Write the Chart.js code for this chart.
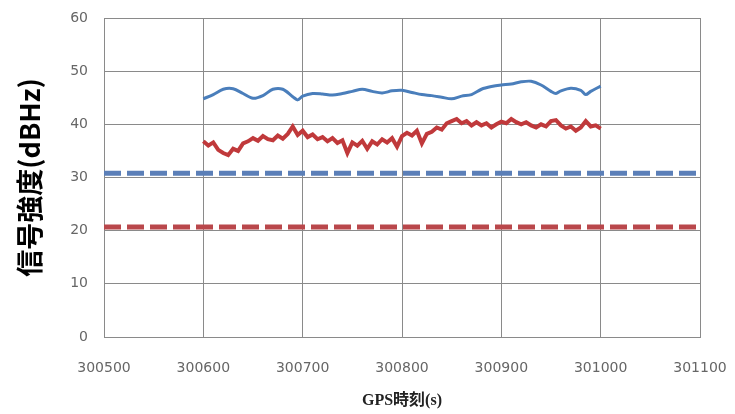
<!DOCTYPE html>
<html>
<head>
<meta charset="utf-8">
<script src="https://cdn.jsdelivr.net/npm/chart.js@4/dist/chart.umd.min.js"></script>
<style>
  html, body { margin: 0; padding: 0; background: #fff; }
  #wrap { width: 735px; height: 414px; }
</style>
</head>
<body>
<div id="wrap"><canvas id="snrChart" width="735" height="414"></canvas></div>
<script>
// GPS time (s) and received signal strength (dBHz)
const blueTimes = [300600, 300610, 300620, 300630, 300640, 300650, 300660, 300670, 300680, 300690,
  300695, 300700, 300710, 300720, 300730, 300740, 300750, 300760, 300770, 300780, 300790,
  300800, 300810, 300820, 300830, 300840, 300850, 300860, 300870, 300880, 300890, 300900,
  300910, 300920, 300930, 300940, 300950, 300955, 300960, 300970, 300980, 300985, 300990, 301000];
const blueValues = [44.8, 45.6, 46.6, 46.7, 45.8, 44.9, 45.4, 46.6, 46.6, 45.2,
  44.6, 45.3, 45.8, 45.7, 45.5, 45.8, 46.2, 46.6, 46.2, 45.9, 46.3,
  46.4, 46.0, 45.6, 45.4, 45.1, 44.8, 45.3, 45.6, 46.6, 47.1, 47.4,
  47.6, 48.0, 48.1, 47.4, 46.2, 45.8, 46.3, 46.8, 46.4, 45.6, 46.2, 47.2];

const redTimes = [300600, 300605, 300610, 300615, 300620, 300625, 300630, 300635, 300640, 300645,
  300650, 300655, 300660, 300665, 300670, 300675, 300680, 300685, 300690, 300695,
  300700, 300705, 300710, 300715, 300720, 300725, 300730, 300735, 300740, 300745,
  300750, 300755, 300760, 300765, 300770, 300775, 300780, 300785, 300790, 300795,
  300800, 300805, 300810, 300815, 300820, 300825, 300830, 300835, 300840, 300845,
  300850, 300855, 300860, 300865, 300870, 300875, 300880, 300885, 300890, 300895,
  300900, 300905, 300910, 300915, 300920, 300925, 300930, 300935, 300940, 300945,
  300950, 300955, 300960, 300965, 300970, 300975, 300980, 300985, 300990, 300995, 301000];
const redValues = [36.8, 36.0, 36.6, 35.2, 34.6, 34.2, 35.4, 35.0, 36.4, 36.8,
  37.4, 36.9, 37.8, 37.2, 37.0, 37.9, 37.3, 38.2, 39.6, 38.0,
  38.8, 37.6, 38.1, 37.2, 37.6, 36.8, 37.4, 36.5, 37.0, 34.6,
  36.6, 36.0, 36.9, 35.4, 36.8, 36.2, 37.2, 36.6, 37.4, 35.8,
  37.8, 38.4, 37.9, 38.8, 36.4, 38.2, 38.6, 39.4, 39.0, 40.2,
  40.6, 41.0, 40.2, 40.6, 39.8, 40.4, 39.8, 40.2, 39.4, 40.0,
  40.5, 40.2, 41.0, 40.4, 40.0, 40.4, 39.8, 39.4, 40.0, 39.6,
  40.6, 40.8, 39.8, 39.2, 39.6, 38.8, 39.4, 40.6, 39.6, 39.8, 39.2];

// threshold levels drawn across the whole time range
const thresholdBlue = 30.8;
const thresholdRed = 20.7;
const xRange = [300500, 301100];

const xTicks = [300500, 300600, 300700, 300800, 300900, 301000, 301100];
const yTicks = [0, 10, 20, 30, 40, 50, 60];

const toPoints = (xs, ys) => xs.map((x, i) => ({ x: x, y: ys[i] }));
const flat = v => xRange.map(x => ({ x: x, y: v }));

const gridColor = '#8a8a8a';
const tickFont = { family: "'DejaVu Sans', sans-serif", size: 14 };

new Chart(document.getElementById('snrChart'), {
  type: 'line',
  data: {
    datasets: [
      {
        data: toPoints(blueTimes, blueValues),
        borderColor: '#4a7ebb',
        borderWidth: 3,
        pointRadius: 0,
        tension: 0.3
      },
      {
        data: toPoints(redTimes, redValues),
        borderColor: '#c0393b',
        borderWidth: 4,
        pointRadius: 0,
        tension: 0
      },
      {
        data: flat(thresholdBlue),
        borderColor: '#5b7fb8',
        borderWidth: 5,
        borderDash: [17, 6],
        pointRadius: 0,
        clip: false
      },
      {
        data: flat(thresholdRed),
        borderColor: '#b9474b',
        borderWidth: 5,
        borderDash: [17, 6],
        pointRadius: 0,
        clip: false
      }
    ]
  },
  options: {
    responsive: false,
    animation: false,
    layout: { padding: { left: 14, right: 35, top: 18, bottom: 4 } },
    plugins: { legend: { display: false }, tooltip: { enabled: false } },
    scales: {
      x: {
        type: 'linear',
        min: xRange[0],
        max: xRange[1],
        afterBuildTicks: s => { s.ticks = xTicks.map(v => ({ value: v })); },
        ticks: { callback: v => String(v), color: '#666', font: tickFont, padding: 23, maxRotation: 0 },
        grid: { color: gridColor, lineWidth: 1, drawTicks: false },
        border: { color: gridColor },
        title: {
          display: true,
          text: 'GPS時刻(s)',
          color: '#222',
          font: { family: "'Liberation Serif', 'Noto Sans CJK JP', serif", size: 16, weight: 'bold' },
          padding: { top: 4, bottom: 0 }
        },
        afterFit: s => { s.height = 73; s.paddingLeft = 0; s.paddingRight = 0; }
      },
      y: {
        min: 0,
        max: 60,
        afterBuildTicks: s => { s.ticks = yTicks.map(v => ({ value: v })); },
        ticks: { color: '#666', font: tickFont, padding: 16 },
        grid: { color: gridColor, lineWidth: 1, drawTicks: false },
        border: { color: gridColor },
        title: {
          display: true,
          text: '信号強度(dBHz)',
          color: '#000',
          font: { family: "'Noto Sans CJK JP', sans-serif", size: 27, weight: 'bold' },
          padding: { top: 0, bottom: 0 }
        },
        afterFit: s => { s.width = 90; s.paddingTop = 0; s.paddingBottom = 0; }
      }
    }
  }
});
</script>
</body>
</html>
